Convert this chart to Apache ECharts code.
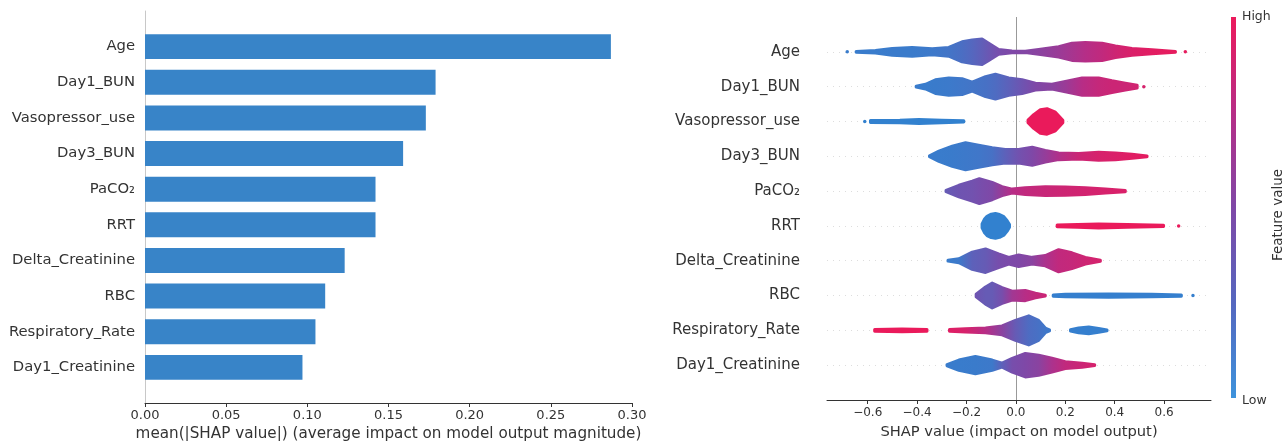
<!DOCTYPE html>
<html>
<head>
<meta charset="utf-8">
<script src="https://cdn.jsdelivr.net/npm/echarts@6/dist/echarts.min.js"></script>
<style>
  html, body { margin: 0; padding: 0; background: #fff; }
  #chart { width: 1285px; height: 441px; }
</style>
</head>
<body>
<div id="chart"></div>
<script>
// Features, top to bottom
const features = ['Age', 'Day1_BUN', 'Vasopressor_use', 'Day3_BUN', 'PaCO\u2082', 'RRT',
  'Delta_Creatinine', 'RBC', 'Respiratory_Rate', 'Day1_Creatinine'];

// mean(|SHAP value|) per feature
const meanAbsShap = [0.287, 0.179, 0.173, 0.159, 0.142, 0.142, 0.123, 0.111, 0.105, 0.097];

const barTicks = [0, 0.05, 0.10, 0.15, 0.20, 0.25, 0.30];
const shapTicks = [-0.6, -0.4, -0.2, 0, 0.2, 0.4, 0.6];

// Beeswarm outlines per feature: each segment is a list of
// [SHAP value, half spread of the swarm (in rows), feature value 0 = low .. 1 = high]
const swarmAge = [
  [[-0.683, 0.05, 0.05]],
  [[-0.647, 0.04, 0.05], [-0.569, 0.08, 0.05], [-0.501, 0.14, 0.06], [-0.420, 0.17, 0.06],
   [-0.339, 0.13, 0.08], [-0.272, 0.17, 0.12], [-0.218, 0.33, 0.18], [-0.177, 0.38, 0.25],
   [-0.137, 0.41, 0.32], [-0.110, 0.29, 0.38], [-0.070, 0.11, 0.45], [-0.016, 0.07, 0.50],
   [0.038, 0.06, 0.52], [0.092, 0.11, 0.55], [0.173, 0.19, 0.62], [0.227, 0.29, 0.68],
   [0.281, 0.31, 0.74], [0.349, 0.29, 0.80], [0.403, 0.21, 0.86], [0.470, 0.14, 0.92],
   [0.551, 0.10, 0.96], [0.646, 0.05, 0.98]],
  [[0.686, 0.05, 0.98]]
];
const swarmDay1BUN = [
  [[-0.404, 0.05, 0.05], [-0.366, 0.11, 0.05], [-0.326, 0.24, 0.06], [-0.272, 0.29, 0.07],
   [-0.218, 0.27, 0.10], [-0.177, 0.17, 0.12], [-0.123, 0.33, 0.15], [-0.083, 0.40, 0.20],
   [-0.029, 0.29, 0.30], [0.025, 0.24, 0.40], [0.079, 0.14, 0.50], [0.146, 0.11, 0.55],
   [0.200, 0.19, 0.62], [0.268, 0.29, 0.75], [0.335, 0.29, 0.82], [0.389, 0.21, 0.85],
   [0.443, 0.14, 0.85], [0.491, 0.08, 0.88]],
  [[0.518, 0.05, 0.90]]
];
const swarmVasopressor = [
  [[-0.612, 0.05, 0.0]],
  [[-0.589, 0.07, 0.0], [-0.470, 0.08, 0.0], [-0.393, 0.10, 0.0], [-0.300, 0.08, 0.0], [-0.211, 0.06, 0.0]],
  [[0.049, 0.08, 1.0], [0.072, 0.24, 1.0], [0.099, 0.38, 1.0], [0.126, 0.41, 1.0], [0.160, 0.31, 1.0], [0.190, 0.08, 1.0]]
];
const swarmDay3BUN = [
  [[-0.350, 0.05, 0.05], [-0.312, 0.19, 0.05], [-0.258, 0.33, 0.06], [-0.204, 0.43, 0.08],
   [-0.151, 0.36, 0.10], [-0.096, 0.29, 0.15], [-0.043, 0.24, 0.30], [0.011, 0.24, 0.42],
   [0.066, 0.30, 0.50], [0.119, 0.21, 0.60], [0.173, 0.14, 0.72], [0.254, 0.12, 0.85],
   [0.335, 0.16, 0.90], [0.403, 0.14, 0.92], [0.470, 0.10, 0.95], [0.531, 0.05, 0.97]]
];
const swarmPaCO2 = [
  [[-0.283, 0.06, 0.35], [-0.231, 0.21, 0.40], [-0.177, 0.33, 0.42], [-0.148, 0.40, 0.45],
   [-0.096, 0.29, 0.50], [-0.056, 0.17, 0.62], [-0.015, 0.10, 0.75], [0.038, 0.14, 0.80],
   [0.119, 0.17, 0.83], [0.200, 0.16, 0.86], [0.281, 0.14, 0.88], [0.362, 0.10, 0.90],
   [0.443, 0.06, 0.92]]
];
const swarmRRT = [
  [[-0.137, 0.10, 0.0], [-0.127, 0.24, 0.0], [-0.117, 0.32, 0.0], [-0.100, 0.38, 0.0], [-0.083, 0.40, 0.0],
   [-0.066, 0.37, 0.0], [-0.049, 0.31, 0.0], [-0.036, 0.20, 0.0], [-0.026, 0.08, 0.0]],
  [[0.167, 0.07, 1.0], [0.250, 0.08, 1.0], [0.335, 0.10, 1.0], [0.450, 0.08, 1.0], [0.598, 0.06, 1.0]],
  [[0.659, 0.05, 1.0]]
];
const swarmDeltaCreat = [
  [[-0.275, 0.05, 0.05], [-0.231, 0.10, 0.08], [-0.177, 0.29, 0.30], [-0.123, 0.38, 0.35],
   [-0.070, 0.24, 0.45], [-0.029, 0.14, 0.48], [0.011, 0.21, 0.50], [0.066, 0.14, 0.55],
   [0.119, 0.19, 0.70], [0.173, 0.36, 0.80], [0.227, 0.27, 0.82], [0.281, 0.14, 0.86],
   [0.342, 0.06, 0.90]]
];
const swarmRBC = [
  [[-0.161, 0.08, 0.40], [-0.123, 0.29, 0.35], [-0.096, 0.40, 0.35], [-0.056, 0.27, 0.45],
   [-0.015, 0.17, 0.65], [0.038, 0.19, 0.75], [0.079, 0.11, 0.80], [0.119, 0.05, 0.85]],
  [[0.151, 0.06, 0.02], [0.200, 0.08, 0.02], [0.376, 0.09, 0.02], [0.550, 0.08, 0.02], [0.670, 0.06, 0.02]],
  [[0.717, 0.05, 0.02]]
];
const swarmRespRate = [
  [[-0.572, 0.07, 1.0], [-0.461, 0.08, 1.0], [-0.360, 0.07, 1.0]],
  [[-0.269, 0.07, 0.95], [-0.204, 0.09, 0.90], [-0.123, 0.11, 0.75], [-0.056, 0.17, 0.55],
   [-0.002, 0.33, 0.35], [0.052, 0.46, 0.20], [0.092, 0.33, 0.15], [0.119, 0.11, 0.10], [0.136, 0.06, 0.08]],
  [[0.221, 0.06, 0.02], [0.254, 0.11, 0.02], [0.295, 0.14, 0.02], [0.335, 0.10, 0.02], [0.369, 0.05, 0.02]]
];
const swarmDay1Creat = [
  [[-0.279, 0.06, 0.05], [-0.231, 0.19, 0.05], [-0.164, 0.29, 0.06], [-0.096, 0.19, 0.08],
   [-0.056, 0.10, 0.30], [-0.015, 0.24, 0.45], [0.038, 0.38, 0.50], [0.092, 0.33, 0.55],
   [0.146, 0.24, 0.70], [0.200, 0.14, 0.80], [0.268, 0.10, 0.85], [0.319, 0.05, 0.90]]
];

const swarms = [swarmAge, swarmDay1BUN, swarmVasopressor, swarmDay3BUN, swarmPaCO2, swarmRRT,
  swarmDeltaCreat, swarmRBC, swarmRespRate, swarmDay1Creat];

// ---- colour map: low (blue) -> high (red) ----
const cmapColors = ['#3281cf', '#5567bf', '#7f48a7', '#b72d86', '#ea1a5b'];
function hexToRgb(h) {
  return [parseInt(h.slice(1, 3), 16), parseInt(h.slice(3, 5), 16), parseInt(h.slice(5, 7), 16)];
}
const cmapRgb = cmapColors.map(hexToRgb);
function cmap(t) {
  t = Math.min(1, Math.max(0, t));
  const f = t * (cmapRgb.length - 1);
  const i = Math.min(Math.floor(f), cmapRgb.length - 2);
  const u = f - i;
  const a = cmapRgb[i], b = cmapRgb[i + 1];
  const c = a.map((v, k) => Math.round(v + (b[k] - v) * u));
  return 'rgb(' + c.join(',') + ')';
}

const N = features.length;
const rowOf = i => N - 1 - i;   // first feature sits on the top row
const FONT = 'DejaVu Sans';
const TXT = '#333333';

// flatten segments with their row index
const segments = [];
swarms.forEach((segs, i) => segs.forEach(pts => segments.push({ row: rowOf(i), pts })));

function renderSwarm(params, api) {
  const seg = segments[params.dataIndex];
  const lw = 3;
  if (seg.pts.length === 1) {
    const p = seg.pts[0];
    const c = api.coord([p[0], seg.row]);
    const r = api.size([0, p[1]])[1];
    return { type: 'circle', shape: { cx: c[0], cy: c[1], r: r }, style: { fill: cmap(p[2]) } };
  }
  const top = [], bot = [];
  seg.pts.forEach(p => {
    const c = api.coord([p[0], seg.row]);
    const h = Math.max(api.size([0, p[1]])[1] - lw / 2, 0.4);
    top.push([c[0], c[1] - h]);
    bot.push([c[0], c[1] + h]);
  });
  const x0 = top[0][0], x1 = top[top.length - 1][0];
  const stops = seg.pts.map((p, k) => ({ offset: (top[k][0] - x0) / (x1 - x0), color: cmap(p[2]) }));
  const grad = new echarts.graphic.LinearGradient(x0, 0, x1, 0, stops, true);
  return {
    type: 'polygon',
    shape: { points: top.concat(bot.reverse()) },
    style: { fill: grad, stroke: grad, lineWidth: lw, lineJoin: 'round' }
  };
}

function renderBar(params, api) {
  const v = api.value(0), row = api.value(1);
  const start = api.coord([0, row]);
  const end = api.coord([v, row]);
  const h = api.size([0, 0.7])[1];
  return {
    type: 'rect',
    shape: { x: start[0], y: start[1] - h / 2, width: end[0] - start[0], height: h },
    style: { fill: '#3884c8' }
  };
}

const rowLabel = v => (v >= 0 && v < N && Number.isInteger(v)) ? features[N - 1 - v] : '';

const chart = echarts.init(document.getElementById('chart'), null, { renderer: 'canvas' });
chart.setOption({
  animation: false,
  textStyle: { fontFamily: FONT },
  grid: [
    { left: 145, width: 487, top: 11, height: 392, containLabel: false, outerBoundsMode: 'none' },
    { left: 827, width: 384, top: 17, height: 383, containLabel: false, outerBoundsMode: 'none' }
  ],
  xAxis: [
    {
      gridIndex: 0, type: 'value', min: 0, max: 0.3, interval: 0.05,
      axisLine: { onZero: false, lineStyle: { color: '#333', width: 1 } },
      axisTick: { show: true, length: 4, lineStyle: { color: '#333' }, customValues: barTicks },
      axisLabel: { customValues: barTicks, formatter: v => v.toFixed(2), fontSize: 13, color: TXT, margin: 6, fontFamily: FONT },
      splitLine: { show: false },
      name: 'mean(|SHAP value|) (average impact on model output magnitude)',
      nameLocation: 'middle', nameGap: 23,
      nameTextStyle: { fontSize: 15.2, color: TXT, fontFamily: FONT }
    },
    {
      gridIndex: 1, type: 'value', min: -0.765, max: 0.79,
      axisLine: { onZero: false, lineStyle: { color: '#333', width: 1 } },
      axisTick: { show: true, length: 4, lineStyle: { color: '#333' }, customValues: shapTicks },
      axisLabel: {
        customValues: shapTicks, fontSize: 12, color: TXT, margin: 7, fontFamily: FONT,
        formatter: v => (v < 0 ? '\u2212' : '') + Math.abs(v).toFixed(1)
      },
      splitLine: { show: false },
      name: 'SHAP value (impact on model output)',
      nameLocation: 'middle', nameGap: 25,
      nameTextStyle: { fontSize: 14.7, color: TXT, fontFamily: FONT }
    }
  ],
  yAxis: [
    {
      gridIndex: 0, type: 'value', min: -1, max: N, interval: 1,
      axisLine: { show: true, onZero: false, lineStyle: { color: '#c8c8c8' } },
      axisTick: { show: false },
      axisLabel: { formatter: rowLabel, fontSize: 14.8, color: TXT, margin: 10, fontFamily: FONT },
      splitLine: { show: false }
    },
    {
      gridIndex: 1, type: 'value', min: -1, max: N, interval: 1,
      axisLine: { show: false, onZero: false },
      axisTick: { show: false },
      axisLabel: { formatter: rowLabel, fontSize: 15, color: TXT, margin: 27, fontFamily: FONT },
      splitLine: { show: false }
    }
  ],
  series: [
    {
      type: 'custom', xAxisIndex: 0, yAxisIndex: 0,
      renderItem: renderBar,
      encode: { x: 0, y: 1 },
      data: meanAbsShap.map((v, i) => [v, rowOf(i)])
    },
    {
      // faint row guides and the zero line, kept behind the swarms
      type: 'line', xAxisIndex: 1, yAxisIndex: 1, data: [], silent: true, z: 1,
      markLine: {
        z: 1, symbol: 'none', silent: true, label: { show: false },
        data: features.map((f, i) => ({ yAxis: rowOf(i), lineStyle: { color: '#dddddd', width: 1, type: [1, 5] } }))
          .concat([{ xAxis: 0, lineStyle: { color: '#999', width: 1, type: 'solid' } }])
      }
    },
    {
      type: 'custom', xAxisIndex: 1, yAxisIndex: 1,
      renderItem: renderSwarm,
      encode: { x: 0, y: 1 },
      data: segments.map(s => [s.pts[0][0], s.row]),
      z: 6
    }
  ],
  graphic: [
    {
      type: 'rect', shape: { x: 1231, y: 17, width: 5, height: 381 },
      style: {
        fill: new echarts.graphic.LinearGradient(0, 1, 0, 0, [
          { offset: 0, color: '#3d93dc' }, { offset: 0.25, color: '#5567bf' },
          { offset: 0.5, color: '#7f48a7' }, { offset: 0.75, color: '#b72d86' },
          { offset: 1, color: '#ec1a5c' }
        ])
      }
    },
    { type: 'text', x: 1242, y: 17, style: { text: 'High', fontSize: 12.5, fill: TXT, fontFamily: FONT, textVerticalAlign: 'middle' } },
    { type: 'text', x: 1242, y: 401, style: { text: 'Low', fontSize: 12.5, fill: TXT, fontFamily: FONT, textVerticalAlign: 'middle' } },
    {
      type: 'text', x: 1278, y: 215, rotation: Math.PI / 2,
      style: { text: 'Feature value', fontSize: 13.5, fill: TXT, fontFamily: FONT, textAlign: 'center', textVerticalAlign: 'middle' }
    }
  ]
});
</script>
</body>
</html>
